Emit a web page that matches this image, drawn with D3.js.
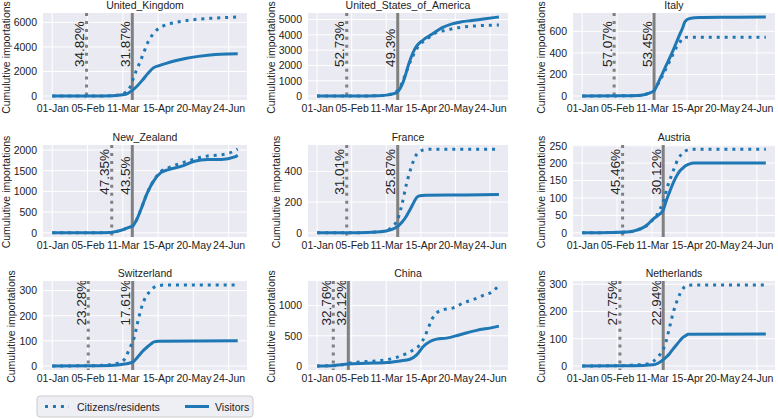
<!DOCTYPE html>
<html><head><meta charset="utf-8">
<script src="https://cdn.jsdelivr.net/npm/d3@7"></script>
<style>
body{margin:0;background:#fff}
svg text{font-family:"Liberation Sans",Arial,Helvetica,sans-serif;fill:#222}
</style>
</head><body>
<svg id="chart" width="778" height="419"></svg>
<script>
// ---------- DATA ----------
const countries = ["United_Kingdom","United_States_of_America","Italy","New_Zealand","France","Austria","Switzerland","China","Netherlands"];
const citizenPct = ["34.82%","52.73%","57.07%","47.35%","31.01%","45.46%","23.28%","32.76%","27.75%"];
const visitorPct = ["31.87%","49.3%","53.45%","43.5%","25.87%","30.12%","17.61%","32.12%","22.94%"];
// day offsets from 01-Jan (2020) of the vertical marker lines
const citizenLineDay = [34, 30, 32, 59, 30, 40.5, 35.7, 16.4, 37.8];
const visitorLineDay = [79.4, 81.6, 72, 79.4, 81.6, 81.2, 79.8, 31.6, 81.2];
const xTickDays = [0, 35, 70, 105, 140, 175];
const xTickLabels = ["01-Jan","05-Feb","11-Mar","15-Apr","20-May","24-Jun"];
const yTicks = [
  [0,2000,4000,6000],
  [0,1000,2000,3000,4000,5000],
  [0,200,400,600],
  [0,500,1000,1500,2000],
  [0,200,400],
  [0,50,100,150,200,250],
  [0,100,200,300],
  [0,500,1000],
  [0,100,200,300]
];
// [day, cumulative importations]
const citizens = [
  [[0,0],[40,5],[60,30],[67,120],[73,310],[77,700],[80,1350],[83,2000],[86.5,2660],[91.5,3700],[95,4400],[99.6,5010],[104,5400],[109,5660],[115,5850],[122.6,6000],[135,6170],[145,6260],[160,6340],[175,6400],[184,6440]],
  [[0,0],[40,5],[60,20],[70,60],[76,130],[80,280],[83,460],[86.5,950],[90,1520],[93,2050],[96.6,2570],[103,3310],[110,3670],[116.6,4000],[123,4200],[130,4300],[143,4470],[160,4580],[184,4640]],
  [[0,0],[40,2],[55,5],[63,15],[68,30],[72,50],[77,130],[81,199],[88,330],[94.4,451],[97.7,496],[101,540],[106,546],[184,546]],
  [[0,0],[40,2],[57.7,10],[65,40],[71,85],[76,130],[80,170],[84,330],[87.7,550],[94.4,972],[101,1280],[107.7,1480],[114.4,1560],[134,1730],[154,1857],[165,1880],[175,1920],[184,2020]],
  [[0,0],[40,1],[60,5],[70,15],[77,44],[81.6,89],[85.6,178],[90.6,322],[95.6,433],[100.7,511],[104,530],[107.4,540],[115,545],[184,545]],
  [[0,0],[30,1],[47.7,3],[55,8],[64.4,20],[70,35],[74.4,49],[78,68],[81,88],[86,137],[91,176],[96,211],[101,230],[106,238],[110,240],[184,240]],
  [[0,0],[40,1],[57.7,5],[64,10],[69.3,17],[73,35],[76,63],[78.5,85],[81,109],[84.4,168],[87.7,221],[91,260],[96,293],[101,313],[106,320],[112,322],[184,322]],
  [[0,0],[16.8,5],[25,20],[36.6,56],[50,72],[64,89],[77.7,128],[91,211],[97.4,267],[104,350],[109,489],[112.5,628],[116,767],[121,878],[127.7,933],[137.8,961],[148,1044],[158,1100],[168,1167],[178,1239],[184,1340]],
  [[0,0],[38,1],[50,3],[64.4,7],[71,16],[76,34],[81,59],[84.4,95],[87.7,144],[91,193],[96,248],[101,284],[106,296],[112,297],[184,297]]
];
const visitors = [
  [[0,0],[40,5],[60,30],[70,100],[75,220],[79,440],[84,800],[90,1350],[95,1850],[100,2270],[106,2480],[113,2660],[122,2870],[132,3050],[145,3230],[162,3390],[175,3430],[184,3440]],
  [[0,0],[40,5],[60,20],[70,60],[76,130],[81,250],[84,500],[87,900],[90,1500],[93,2150],[96.5,2750],[100,3200],[106.6,3630],[116.6,4050],[126.6,4470],[136.6,4720],[146,4850],[156.6,4940],[170,5050],[184,5170]],
  [[0,0],[40,2],[55,5],[63,15],[68,30],[72,50],[77.7,154],[84.4,288],[91,421],[97.7,570],[101,640],[103,690],[107.7,718],[117.7,727],[150,730],[184,733]],
  [[0,0],[40,2],[57.7,10],[65,40],[71,85],[76,130],[80,170],[84,330],[87.7,550],[94.4,972],[101,1266],[107.7,1453],[114.4,1519],[127.7,1604],[141,1730],[154.4,1772],[167.7,1772],[181,1832],[184,1870]],
  [[0,0],[40,1],[60,5],[70,12],[77,25],[82,44],[86,70],[90,105],[94,150],[98,200],[101,232],[104,242],[110,245],[150,247],[184,250]],
  [[0,0],[30,1],[47.7,3],[55,8],[61,15],[66,25],[71,39],[76,50],[81,64],[84,90],[87.7,118],[91,142],[94.4,162],[98,178],[101,186],[104,193],[107.7,198],[112,200],[184,200]],
  [[0,0],[40,1],[61,3],[70,7],[76,11],[80.4,17],[84,32],[87.7,50],[91,64],[94.4,76],[98,88],[101,96],[105,98],[184,100]],
  [[0,0],[15,5],[31.6,33],[50,44],[70.4,56],[84,83],[94,111],[100.8,183],[107.5,322],[114.3,405],[121,444],[131,461],[144.6,517],[161.4,589],[178.3,639],[184,660]],
  [[0,0],[40,1],[61,2],[71,4],[76,10],[81,22],[84,32],[87.7,46],[91,62],[94.4,77],[98,93],[101,105],[104,112],[106,116],[184,117]]
];
const legendLabels = ["Citizens/residents","Visitors"];
const yLabel = "Cumulutive importations";

// ---------- LAYOUT ----------
const svg = d3.select("#chart");
const FS = 10.5, PFS = 13.5;
const cols = [[43,247],[308,508],[573,775]];
const rows = [[13,100],[145,237],[281,370]];
const labelFrac = [0.62,0.54,0.5];
const blue = "#1f77b4", grey = "#808080";
const xDomain = [-9.2, 193.2];

countries.forEach((name,i)=>{
  const [x0,x1] = cols[i%3];
  const r = Math.floor(i/3);
  const [y0,y1] = rows[r];
  const x = d3.scaleLinear().domain(xDomain).range([x0,x1]);
  const vals = citizens[i].concat(visitors[i]).map(d=>d[1]);
  const vmax = d3.max(vals), vmin = 0;
  const pad = (vmax-vmin)*0.05;
  const y = d3.scaleLinear().domain([vmin-pad, vmax+pad]).range([y1,y0]);
  const g = svg.append("g");
  g.append("rect").attr("x",x0).attr("y",y0).attr("width",x1-x0).attr("height",y1-y0).attr("fill","#eaeaf2");
  // grid
  g.selectAll(".gx").data(xTickDays).join("line")
    .attr("x1",d=>x(d)).attr("x2",d=>x(d)).attr("y1",y0).attr("y2",y1)
    .attr("stroke","#fff").attr("stroke-width",1);
  g.selectAll(".gy").data(yTicks[i]).join("line")
    .attr("x1",x0).attr("x2",x1).attr("y1",d=>y(d)).attr("y2",d=>y(d))
    .attr("stroke","#fff").attr("stroke-width",1);
  // axes
  const xa = g.append("g").attr("transform",`translate(0,${y1})`)
    .call(d3.axisBottom(x).tickValues(xTickDays).tickFormat((d,k)=>xTickLabels[k]).tickSize(0).tickPadding(5));
  xa.select(".domain").remove();
  xa.selectAll("text").attr("font-size",FS).attr("fill","#222");
  const ya = g.append("g").attr("transform",`translate(${x0},0)`)
    .call(d3.axisLeft(y).tickValues(yTicks[i]).tickFormat(d3.format("d")).tickSize(0).tickPadding(6));
  ya.select(".domain").remove();
  ya.selectAll("text").attr("font-size",FS).attr("fill","#222");
  let tw = 0;
  ya.selectAll("text").each(function(){ tw = Math.max(tw, this.getComputedTextLength()); });
  // y label
  g.append("text").attr("transform",`translate(${x0-6-tw-4},${(y0+y1)/2+1}) rotate(-90)`)
    .attr("text-anchor","middle").attr("font-size",FS).text(yLabel);
  // title
  g.append("text").attr("x",(x0+x1)/2).attr("y",y0-4).attr("text-anchor","middle").attr("font-size",FS).text(name);
  // clip
  const clipId = "clip"+i;
  svg.append("clipPath").attr("id",clipId).append("rect").attr("x",x0).attr("y",y0).attr("width",x1-x0).attr("height",y1-y0);
  const pg = g.append("g").attr("clip-path",`url(#${clipId})`);
  // vertical lines
  pg.append("line").attr("x1",x(citizenLineDay[i])).attr("x2",x(citizenLineDay[i])).attr("y1",y0).attr("y2",y1)
    .attr("stroke",grey).attr("stroke-width",3).attr("stroke-dasharray","3,4.95");
  pg.append("line").attr("x1",x(visitorLineDay[i])).attr("x2",x(visitorLineDay[i])).attr("y1",y0).attr("y2",y1)
    .attr("stroke",grey).attr("stroke-width",3);
  const ly = y0 + labelFrac[r]*(y1-y0);
  pg.append("text").attr("transform",`translate(${x(citizenLineDay[i])-2.5},${ly}) rotate(-90)`)
    .attr("font-size",PFS).text(citizenPct[i]);
  pg.append("text").attr("transform",`translate(${x(visitorLineDay[i])-2.5},${ly}) rotate(-90)`)
    .attr("font-size",PFS).text(visitorPct[i]);
  // series
  const line = d3.line().x(d=>x(d[0])).y(d=>y(d[1])).curve(d3.curveMonotoneX);
  pg.append("path").attr("d",line(citizens[i])).attr("fill","none").attr("stroke",blue)
    .attr("stroke-width",3).attr("stroke-dasharray","3,4.95");
  pg.append("path").attr("d",line(visitors[i])).attr("fill","none").attr("stroke",blue)
    .attr("stroke-width",3);
});

// legend
const lg = svg.append("g").attr("transform","translate(37,396)");
lg.append("rect").attr("x",0).attr("y",0).attr("width",216).attr("height",21).attr("rx",3)
  .attr("fill","#eaeaf2").attr("fill-opacity",0.8).attr("stroke","#cccccc");
lg.append("line").attr("x1",8).attr("x2",32).attr("y1",10.5).attr("y2",10.5).attr("stroke",blue).attr("stroke-width",3).attr("stroke-dasharray","3,4.95");
lg.append("text").attr("x",40).attr("y",14.5).attr("font-size",FS).text(legendLabels[0]);
lg.append("line").attr("x1",148).attr("x2",172).attr("y1",10.5).attr("y2",10.5).attr("stroke",blue).attr("stroke-width",3);
lg.append("text").attr("x",178).attr("y",14.5).attr("font-size",FS).text(legendLabels[1]);
</script>
</body></html>
